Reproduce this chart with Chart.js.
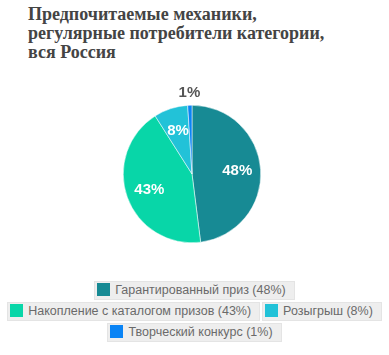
<!DOCTYPE html>
<html>
<head>
<meta charset="utf-8">
<script src="https://cdn.jsdelivr.net/npm/chart.js@4"></script>
<style>
  body { margin: 0; background: #fff; width: 389px; height: 355px; position: relative; overflow: hidden; }
  #title { position: absolute; left: 28px; top: 5px; font: bold 18px "Liberation Serif", serif; color: #444; line-height: 19px; }
  #wrap { position: absolute; left: 0; top: 80px; width: 389px; height: 180px; }
  #legend { position: absolute; left: 0; top: 281px; width: 389px; text-align: center; font: 12.5px "Liberation Sans", Arial, sans-serif; color: #6a6a6a; white-space: nowrap; }
  .row { height: 19px; margin-bottom: 2px; }
  .item { display: inline-block; background: #eee; border: 1px solid #e4e4e4; padding: 0 8px 0 2px; margin: 0 1px; line-height: 17px; }
  .sw { display: inline-block; width: 13px; height: 13px; vertical-align: -2px; margin-right: 5px; }
</style>
</head>
<body>
<div id="title">Предпочитаемые механики,<br>регулярные потребители категории,<br>вся Россия</div>
<div id="wrap"><canvas id="pie"></canvas></div>
<div id="legend"></div>
<script>
const categories = ['Гарантированный приз', 'Накопление с каталогом призов', 'Розыгрыш', 'Творческий конкурс'];
const shares = [48, 43, 8, 1];
const colors = ['#178a94', '#08d6a8', '#22c2d8', '#0a84f5'];
const legendRows = [[0], [1, 2], [3]];

const pctLabels = {
  id: 'pctLabels',
  afterDatasetsDraw(chart) {
    const ctx = chart.ctx;
    const meta = chart.getDatasetMeta(0);
    ctx.save();
    ctx.textAlign = 'center';
    ctx.textBaseline = 'middle';
    meta.data.forEach((arc, i) => {
      const mid = (arc.startAngle + arc.endAngle) / 2;
      const small = shares[i] < 3;
      const r = small ? arc.outerRadius + 12 : arc.outerRadius * 0.66;
      const x = arc.x + Math.cos(mid) * r;
      const y = arc.y + Math.sin(mid) * r;
      ctx.font = 'bold 15px "Liberation Sans", Arial, sans-serif';
      ctx.fillStyle = small ? '#555' : '#fff';
      ctx.fillText(shares[i] + '%', x, y);
    });
    ctx.restore();
  }
};

new Chart(document.getElementById('pie'), {
  type: 'pie',
  data: {
    labels: categories,
    datasets: [{ data: shares, backgroundColor: colors, borderColor: '#fff', borderWidth: 0.5 }],
  },
  options: {
    responsive: true,
    maintainAspectRatio: false,
    animation: false,
    layout: { padding: { top: 25, bottom: 17, left: 0, right: 5 } },
    plugins: { legend: { display: false }, tooltip: { enabled: false } },
  },
  plugins: [pctLabels],
});

document.getElementById('legend').innerHTML = legendRows.map((row) =>
  '<div class="row">' + row.map((i) =>
    `<span class="item"><span class="sw" style="background:${colors[i]}"></span>${categories[i]} (${shares[i]}%)</span>`
  ).join('') + '</div>'
).join('');
</script>
</body>
</html>
